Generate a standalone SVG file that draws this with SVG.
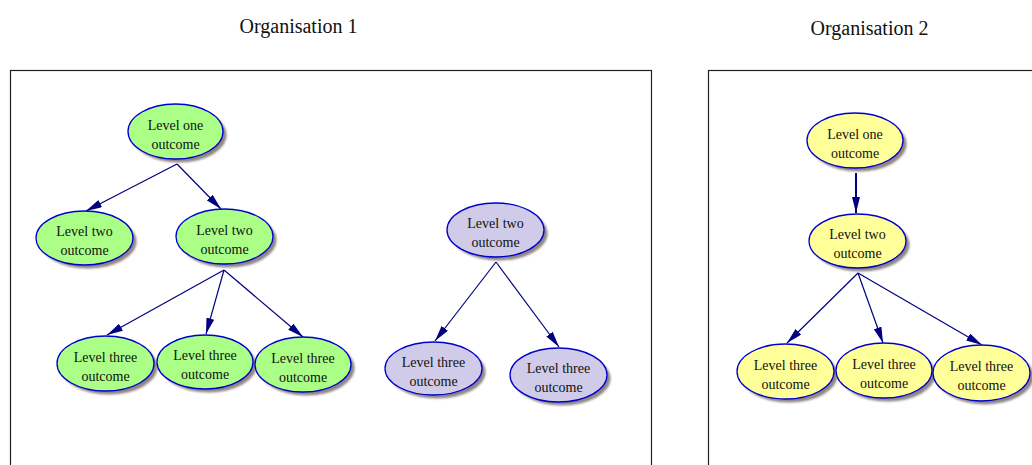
<svg xmlns="http://www.w3.org/2000/svg" width="1032" height="465" viewBox="0 0 1032 465">
  <defs>
    <marker id="arrow" viewBox="0 0 16 8" markerWidth="16" markerHeight="8" refX="16" refY="4" orient="auto" markerUnits="userSpaceOnUse">
      <path d="M0,0 L16,4 L0,8 Z" fill="#000080"/>
    </marker>
    <filter id="soft" x="-20%" y="-20%" width="140%" height="140%">
      <feGaussianBlur stdDeviation="0.8"/>
    </filter>
  </defs>
  <style>
    .frame { fill: none; stroke: #222; stroke-width: 1.2; }
    .title { font-family: "Liberation Serif", "Times New Roman", serif; font-size: 20px; fill: #111; text-anchor: middle; }
    .shadow { fill: #8f8585; filter: url(#soft); }
    .node ellipse.body { stroke: #0000cc; stroke-width: 1.3; }
    .green ellipse.body { fill: #abff87; }
    .purple ellipse.body { fill: #cfcbe8; }
    .yellow ellipse.body { fill: #ffff99; }
    .node text { font-family: "Liberation Serif", "Times New Roman", serif; font-size: 14px; fill: #111; text-anchor: middle; }
    .edge { stroke: #000080; stroke-width: 1.2; fill: none; marker-end: url(#arrow); }
    .edge.bold { stroke-width: 2; }
  </style>

  <rect width="1032" height="465" fill="#fff"/>

  <!-- Organisation frames and titles -->
  <g id="org1-frame">
    <text class="title" x="298.5" y="32.5">Organisation 1</text>
    <rect class="frame" x="10.5" y="70.5" width="641" height="420"/>
  </g>
  <g id="org2-frame">
    <text class="title" x="869.5" y="35">Organisation 2</text>
    <rect class="frame" x="708.5" y="70.5" width="400" height="420"/>
  </g>

  <!-- Connectors -->
  <g id="connectors">
    <line class="edge" x1="177" y1="164" x2="86" y2="211"/>
    <line class="edge" x1="177" y1="164" x2="221" y2="209"/>
    <line class="edge" x1="224" y1="270" x2="107" y2="335"/>
    <line class="edge" x1="224" y1="270" x2="206" y2="334"/>
    <line class="edge" x1="224" y1="270" x2="303" y2="337"/>
    <line class="edge" x1="496" y1="262" x2="435" y2="341"/>
    <line class="edge" x1="496" y1="262" x2="559" y2="347"/>
    <line class="edge bold" x1="856" y1="173" x2="856" y2="213"/>
    <line class="edge" x1="858" y1="273" x2="787" y2="343"/>
    <line class="edge" x1="858" y1="273" x2="883" y2="343"/>
    <line class="edge" x1="858" y1="273" x2="982" y2="345"/>
  </g>

  <!-- Organisation 1 nodes -->
  <g id="o1-l1" class="node green">
    <ellipse class="shadow" cx="179" cy="135" rx="47.5" ry="27.5"/>
    <ellipse class="body" cx="175.5" cy="131.5" rx="47.5" ry="27.5"/>
    <text x="175.5" y="129.5">Level one</text>
    <text x="175.5" y="148.5">outcome</text>
  </g>
  <g id="o1-l2a" class="node green">
    <ellipse class="shadow" cx="88" cy="241.5" rx="48.5" ry="27"/>
    <ellipse class="body" cx="84.5" cy="238" rx="48.5" ry="27"/>
    <text x="84.5" y="236">Level two</text>
    <text x="84.5" y="255">outcome</text>
  </g>
  <g id="o1-l2b" class="node green">
    <ellipse class="shadow" cx="228" cy="240" rx="48.5" ry="27.5"/>
    <ellipse class="body" cx="224.5" cy="236.5" rx="48.5" ry="27.5"/>
    <text x="224.5" y="234.5">Level two</text>
    <text x="224.5" y="253.5">outcome</text>
  </g>
  <g id="o1-l3a" class="node green">
    <ellipse class="shadow" cx="109" cy="367" rx="48.5" ry="27.5"/>
    <ellipse class="body" cx="105.5" cy="363.5" rx="48.5" ry="27.5"/>
    <text x="105.5" y="361.5">Level three</text>
    <text x="105.5" y="380.5">outcome</text>
  </g>
  <g id="o1-l3b" class="node green">
    <ellipse class="shadow" cx="208.5" cy="365.5" rx="48" ry="27"/>
    <ellipse class="body" cx="205" cy="362" rx="48" ry="27"/>
    <text x="205" y="360">Level three</text>
    <text x="205" y="379">outcome</text>
  </g>
  <g id="o1-l3c" class="node green">
    <ellipse class="shadow" cx="306.5" cy="368" rx="48" ry="27.5"/>
    <ellipse class="body" cx="303" cy="364.5" rx="48" ry="27.5"/>
    <text x="303" y="362.5">Level three</text>
    <text x="303" y="381.5">outcome</text>
  </g>
  <g id="o1-p2" class="node purple">
    <ellipse class="shadow" cx="499" cy="233.5" rx="48.5" ry="27"/>
    <ellipse class="body" cx="495.5" cy="230" rx="48.5" ry="27"/>
    <text x="495.5" y="228">Level two</text>
    <text x="495.5" y="247">outcome</text>
  </g>
  <g id="o1-p3a" class="node purple">
    <ellipse class="shadow" cx="437" cy="372" rx="48.5" ry="26.5"/>
    <ellipse class="body" cx="433.5" cy="368.5" rx="48.5" ry="26.5"/>
    <text x="433.5" y="366.5">Level three</text>
    <text x="433.5" y="385.5">outcome</text>
  </g>
  <g id="o1-p3b" class="node purple">
    <ellipse class="shadow" cx="562" cy="378.5" rx="48.5" ry="27"/>
    <ellipse class="body" cx="558.5" cy="375" rx="48.5" ry="27"/>
    <text x="558.5" y="373">Level three</text>
    <text x="558.5" y="392">outcome</text>
  </g>

  <!-- Organisation 2 nodes -->
  <g id="o2-l1" class="node yellow">
    <ellipse class="shadow" cx="858.5" cy="144" rx="48" ry="27.5"/>
    <ellipse class="body" cx="855" cy="140.5" rx="48" ry="27.5"/>
    <text x="855" y="138.5">Level one</text>
    <text x="855" y="157.5">outcome</text>
  </g>
  <g id="o2-l2" class="node yellow">
    <ellipse class="shadow" cx="861" cy="244.5" rx="48.5" ry="27"/>
    <ellipse class="body" cx="857.5" cy="241" rx="48.5" ry="27"/>
    <text x="857.5" y="239">Level two</text>
    <text x="857.5" y="258">outcome</text>
  </g>
  <g id="o2-l3a" class="node yellow">
    <ellipse class="shadow" cx="789" cy="375" rx="48.5" ry="27.5"/>
    <ellipse class="body" cx="785.5" cy="371.5" rx="48.5" ry="27.5"/>
    <text x="785.5" y="369.5">Level three</text>
    <text x="785.5" y="388.5">outcome</text>
  </g>
  <g id="o2-l3b" class="node yellow">
    <ellipse class="shadow" cx="887.5" cy="374" rx="48" ry="27.5"/>
    <ellipse class="body" cx="884" cy="370.5" rx="48" ry="27.5"/>
    <text x="884" y="368.5">Level three</text>
    <text x="884" y="387.5">outcome</text>
  </g>
  <g id="o2-l3c" class="node yellow">
    <ellipse class="shadow" cx="985" cy="376.5" rx="48.5" ry="28"/>
    <ellipse class="body" cx="981.5" cy="373" rx="48.5" ry="28"/>
    <text x="981.5" y="371">Level three</text>
    <text x="981.5" y="390">outcome</text>
  </g>
</svg>
